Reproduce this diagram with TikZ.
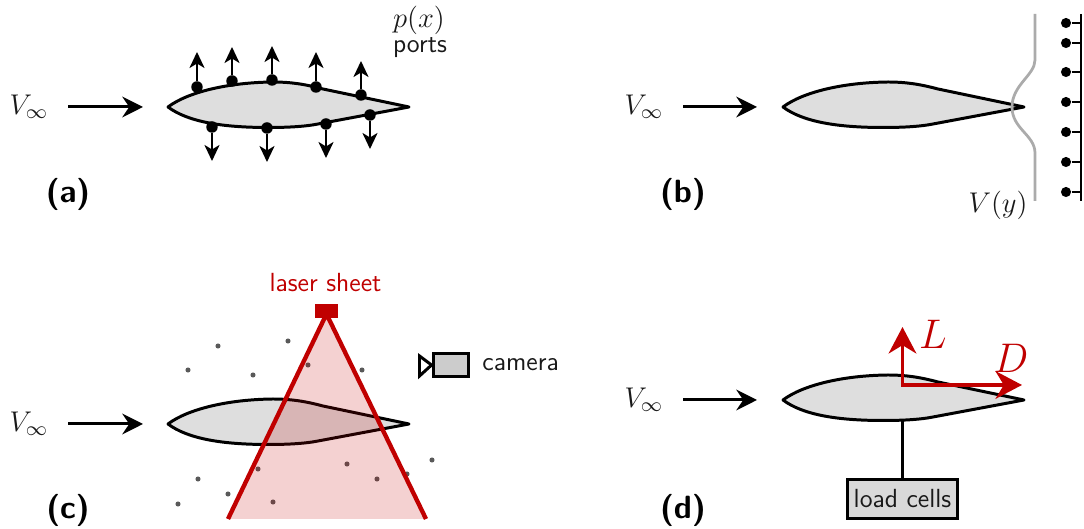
\documentclass[tikz,border=0pt]{standalone}
\usepackage{fix-cm}
\usetikzlibrary{arrows.meta}
\definecolor{lasred}{HTML}{C00000}
\definecolor{foilgray}{HTML}{DEDEDE}
\tikzset{
  x=0.435pt,y=-0.435pt,
  every node/.style={font=\sffamily\fontsize{11.4}{13}\selectfont,inner sep=0pt,text=black!90},
  panel/.style={font=\sffamily\bfseries\fontsize{14}{16}\selectfont,text=black},
  foil/.pic={\draw[line width=1.3pt,fill=foilgray,line join=round]
     (0,0) .. controls (20,-15) and (60,-24.5) .. (105,-25)
     .. controls (125,-25) and (140,-22) .. (155,-18) -- (241,0)
     -- (150,17) .. controls (135,20) and (115,20.5) .. (100,20.5)
     .. controls (55,20.5) and (20,15) .. (0,0) -- cycle;},
  flow/.style={line width=1.3pt,-{Stealth[length=9pt,width=9pt,inset=3pt]}},
  portarrow/.style={line width=0.7pt,-{Stealth[length=7pt,width=6.6pt,inset=2pt]}},
  dot/.style={circle,fill=black,minimum size=5pt},
  rakedot/.style={circle,fill=black,minimum size=4.4pt},
  seed/.style={circle,fill=black!65,minimum size=2.2pt},
  force/.style={line width=1.7pt,color=lasred,-{Stealth[length=11.5pt,width=12pt,inset=3.6pt]}},
}
\begin{document}
\begin{tikzpicture}
\useasboundingbox (0,0) rectangle (1084,529);
% panel a
\node (va) at (29,107) {\fontsize{12.4}{14}\selectfont$V_\infty$};
\coordinate (fa) at (143,107);
\coordinate (fa0) at (68,107);
\draw[flow] (fa0) -- (fa);
\pic at (168,107) {foil};
\foreach \n/\x/\y/\t in {a/197/87/52,b/232/81/47,c/272/80/46,d/316/87/52,e/361/95/61,f/212/127/161,g/267/128/162,h/326/124/158,i/370/115/149}{
  \node[dot] (p\n) at (\x,\y) {};
  \coordinate (q\n) at (\x,\t);
  \draw[portarrow] (p\n) -- (q\n);
}
\node (px) at (419,20) {\fontsize{12.4}{14}\selectfont$p(x)$};
\node (ports) at (420,48) {ports};
\node[panel] (la) at (68,194) {(a)};
% panel b
\node (vb) at (644,107) {\fontsize{12.4}{14}\selectfont$V_\infty$};
\coordinate (fb0) at (683,107);
\coordinate (fb) at (757,107);
\draw[flow] (fb0) -- (fb);
\pic at (783,107) {foil};
\draw[line width=1.2pt,color=black!33] (1035,14) -- (1035,60)
  .. controls (1035,75) and (1012,85) .. (1012,107)
  .. controls (1012,129) and (1035,135) .. (1035,153) -- (1035,201);
\node (vy) at (998,205) {\fontsize{12.4}{14}\selectfont$V(y)$};
\coordinate (rt) at (1081,14);
\coordinate (rb) at (1081,201);
\draw[line width=1.3pt] (rt) -- (rb);
\foreach \y in {23,43,72,102,132,162,192}{
  \node[rakedot] (r\y) at (1066,\y) {};
  \coordinate (s\y) at (1081,\y);
  \draw[line width=1.2pt] (r\y) -- (s\y);
}
\node[panel] (lb) at (683,194) {(b)};
% panel c
\node (vc) at (29,424) {\fontsize{12.4}{14}\selectfont$V_\infty$};
\coordinate (fc0) at (68,424);
\coordinate (fc) at (143,424);
\draw[flow] (fc0) -- (fc);
\pic at (168,424) {foil};
\foreach \x/\y in {218/346,288/341,188/370,253/375,308/365,362/370,258/469,347/464,432/460,407/474,377/479,198/479,228/494,273/502,178/504}{
  \node[seed] at (\x,\y) {};
}
\coordinate (ap) at (326.5,314);
\coordinate (bl) at (228,519);
\coordinate (br) at (426,519);
\fill[lasred,fill opacity=0.18] (ap) -- (bl) -- (br) -- cycle;
\draw[line width=1.9pt,lasred] (bl) -- (ap) -- (br);
\node[fill=lasred,minimum width=10.4pt,minimum height=6.1pt] (las) at (326.5,311) {};
\node[text=lasred] (lt) at (325.5,283) {laser sheet};
\node[draw=black,line width=1.3pt,fill=black!20,minimum width=15.6pt,minimum height=10.2pt] (cam) at (451,365) {};
\draw[line width=1.3pt,fill=white] (cam.west) -- (419.5,376) -- (419.5,356) -- cycle;
\node[anchor=west] (ct) at (482,365) {camera};
\node[panel] (lc) at (68,510) {(c)};
% panel d
\node (vd) at (644,400) {\fontsize{12.4}{14}\selectfont$V_\infty$};
\coordinate (fd0) at (683,400);
\coordinate (fd) at (757,400);
\draw[flow] (fd0) -- (fd);
\node[draw=black,line width=1.3pt,fill=black!15,minimum width=47.5pt,minimum height=17pt] (load) at (902.5,499) {load cells};
\coordinate (st) at (902.5,415);
\draw[line width=1.3pt] (st) -- (load.north -| st);
\pic at (783,400) {foil};
\coordinate (o) at (902.5,385);
\coordinate (lf) at (902.5,327);
\coordinate (df) at (1022,385);
\draw[force] (o) -- (lf);
\draw[force] ([xshift=-0.75pt]o) -- (df);
\node[text=lasred,font=\fontsize{18}{20}\selectfont] (ll) at (933,334) {$L$};
\node[text=lasred,font=\fontsize{18}{20}\selectfont] (dd) at (1011,358) {$D$};
\node[panel] (ld) at (683,510) {(d)};
\end{tikzpicture}
\end{document}
